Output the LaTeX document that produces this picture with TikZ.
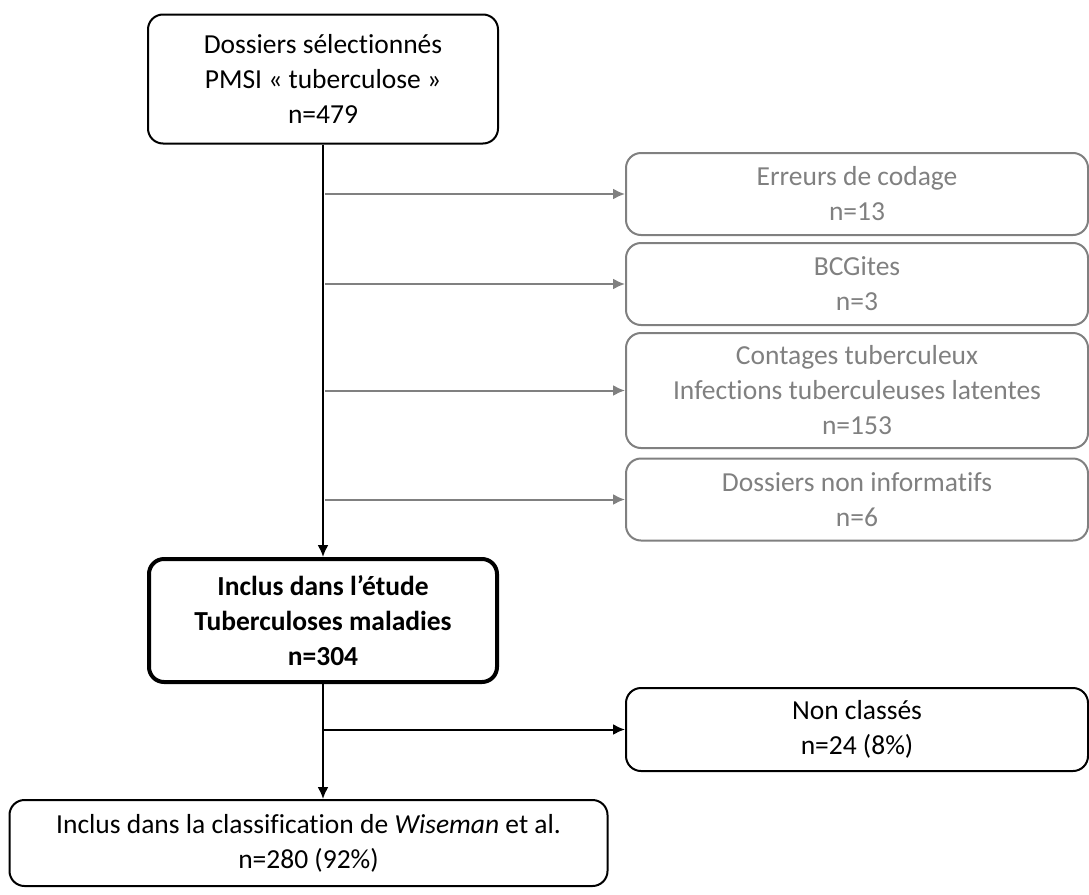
\documentclass[tikz,border=0pt]{standalone}
\usepackage{fontspec}
\setmainfont[Ligatures={NoCommon}]{Carlito}
\usepackage{tikz}
\usetikzlibrary{arrows.meta,positioning}
\definecolor{exclgray}{gray}{0.5}
\tikzstyle{flowbox} = [draw, line width=2pt, rounded corners=15pt, text centered, align=center, inner sep=0pt, font=\fontsize{27.5}{35}\selectfont]
\tikzstyle{startdata} = [flowbox, minimum width=350pt, minimum height=129pt]
\tikzstyle{included} = [flowbox, line width=4pt, minimum width=348pt, minimum height=123pt, font=\fontsize{27.5}{35}\selectfont\bfseries]
\tikzstyle{excluded} = [flowbox, draw=exclgray, text=exclgray, minimum width=462pt, minimum height=82pt]
\tikzstyle{unclassed} = [flowbox, minimum width=462pt, minimum height=83pt]
\tikzstyle{classed} = [flowbox, minimum width=598pt, minimum height=86pt]
\tikzstyle{arrow} = [draw, line width=2pt, -{Latex[length=12pt,width=11pt]}]
\tikzstyle{grayarrow} = [arrow, color=exclgray]
\newcommand{\startdata}[2]{node (d#1) [startdata] {#2}}
\newcommand{\included}[2]{node (i#1) [included] {#2}}
\newcommand{\excluded}[2]{node (e#1) [excluded] {#2}}
\newcommand{\unclassed}[2]{node (n#1) [unclassed] {#2}}
\newcommand{\classed}[2]{node (c#1) [classed] {#2}}
\begin{document}
\begin{tikzpicture}[x=1pt,y=-1pt]
\useasboundingbox (0,0) rectangle (1089,894);
\path (323,79) \startdata{1}{Dossiers sélectionnés\\ PMSI « tuberculose »\\ n=479};
\path (d1)+(534,115) \excluded{1}{Erreurs de codage\\ n=13};
\path (e1)+(0,90) \excluded{2}{BCGites\\ n=3};
\path (e2)+(0,106.5) node (e3) [excluded, minimum height=115pt] {Contages tuberculeux\\ Infections tuberculeuses latentes\\ n=153};
\path (e3)+(0,109) \excluded{4}{Dossiers non informatifs\\ n=6};
\path (d1)+(0,541.5) \included{1}{Inclus dans l’étude\\ Tuberculoses maladies\\ n=304};
\path (i1)+(534,109) \unclassed{1}{Non classés\\ n=24 (8\%)};
\path (i1)+(-14.5,222.5) \classed{1}{Inclus dans la classification de \textit{Wiseman} et al.\\ n=280 (92\%)};

% main flow
\path [arrow] (d1.south) -- (i1.north);
\path [arrow] (i1.south) -- (i1.south |- c1.north);
\path [arrow] (i1.south |- n1.west) -- (n1.west);
% exclusions
\foreach \k in {1,...,4}
  \path [grayarrow] (d1.south |- e\k.west) ++(2,0) -- (e\k.west);
\end{tikzpicture}
\end{document}
